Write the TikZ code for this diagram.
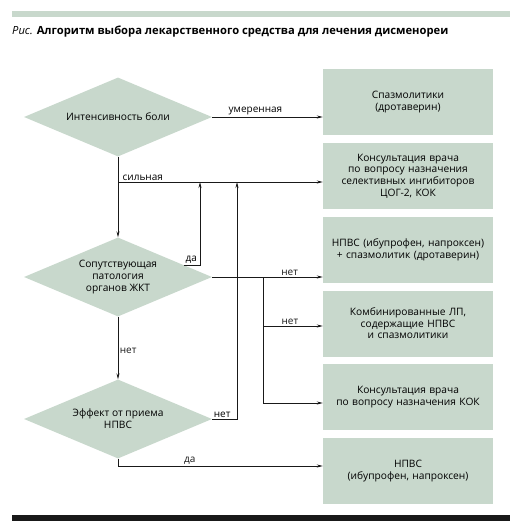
\documentclass[tikz,border=0pt]{standalone}
\usepackage{fontspec}
\setmainfont{Open Sans}
\usepackage{tikz}
\usetikzlibrary{shapes.geometric, arrows.meta, positioning, calc}
\definecolor{mygreen}{RGB}{200,216,204}
\definecolor{mydark}{RGB}{25,25,25}
\tikzset{
  drug/.style={rectangle, fill=mygreen, draw=none,
    text width=166pt, align=center, minimum width=170pt, minimum height=66pt,
    inner sep=0pt, font=\fontsize{10.2}{11.6}\selectfont},
  decide/.style={diamond, fill=mygreen, draw=none, aspect=2.38,
    minimum width=188pt, minimum height=79pt, inner sep=0pt, align=center,
    font=\fontsize{10.2}{11.8}\selectfont},
  arrow/.style={-{Stealth[length=6pt,width=3pt]}, line width=0.8pt, color=mydark},
  line/.style={line width=0.8pt, color=mydark},
  lbl/.style={font=\fontsize{10}{11}\selectfont, inner sep=1.5pt}
}
\begin{document}
\begin{tikzpicture}[x=1pt, y=-1pt]
\useasboundingbox (0,0) rectangle (520,532);
% bars and title
\fill[mygreen] (12,11) rectangle (510,17);
\fill[mydark] (12,515) rectangle (510,521);
\node[anchor=west, inner sep=0pt, font=\fontsize{11.2}{13}\selectfont] (title) at (12,32)
  {\textit{Рис.} \textbf{Алгоритм выбора лекарственного средства для лечения дисменореи}};
% decisions
\node[decide] (D1) at (118,117) {Интенсивность боли};
\node[decide] (D2) at (118,277) {Сопутствующая\\патология\\органов ЖКТ};
\node[decide] (D3) at (118,419) {Эффект от приема\\НПВС};
% drugs
\node[drug] (B1) at (408,102) {Спазмолитики\\(дротаверин)};
\node[drug] (B2) at (408,176) {Консультация врача\\по вопросу назначения\\селективных ингибиторов\\ЦОГ-2, КОК};
\node[drug] (B3) at (408,250) {НПВС (ибупрофен, напроксен)\\+ спазмолитик (дротаверин)};
\node[drug] (B4) at (408,323.5) {Комбинированные ЛП,\\содержащие НПВС\\и спазмолитики};
\node[drug] (B5) at (408,397) {Консультация врача\\по вопросу назначения КОК};
\node[drug] (B6) at (408,471) {НПВС\\(ибупрофен, напроксен)};
% helper points
\coordinate (s1) at (118,182);
\coordinate (da1) at ($(D2.north)!0.7!(D2.east)$);
\coordinate (up1) at (200,182);
\coordinate (up2) at (237,182);
\coordinate (bus) at (263,277);
\coordinate (bus4) at (263,326);
\coordinate (bus5) at (263,403);
\coordinate (da3) at (118,466);
% connectors
\draw[arrow] (D1.east) -- (D1.east -| B1.west);
\node[lbl, anchor=south west] (umer) at (227,117) {умеренная};
\draw[arrow] (D1.south) -- (D2.north);
\draw[arrow] (s1) -- (s1 -| B2.west);
\node[lbl, anchor=south west] (sil) at (121,182) {сильная};
\draw[arrow] (da1) -- (da1 -| up1) -- (up1);
\node[lbl, anchor=south west] (da1l) at (da1) {да};
\draw[arrow] (D2.east) -- node[lbl, above, pos=0.7] {нет} (D2.east -| B3.west);
\draw[line] (bus) -- (bus5);
\draw[arrow] (bus4) -- node[lbl, above, pos=0.45] {нет} (bus4 -| B4.west);
\draw[arrow] (bus5) -- (bus5 -| B5.west);
\draw[arrow] (D2.south) -- node[lbl, right, pos=0.55] {нет} (D3.north);
\draw[arrow] (D3.east) -- (D3.east -| up2) -- (up2);
\node[lbl, anchor=south west] (net3) at (D3.east) {нет};
\draw[arrow] (D3.south) -- (da3) -- node[lbl, above, pos=0.35] {да} (da3 -| B6.west);
\end{tikzpicture}
\end{document}
